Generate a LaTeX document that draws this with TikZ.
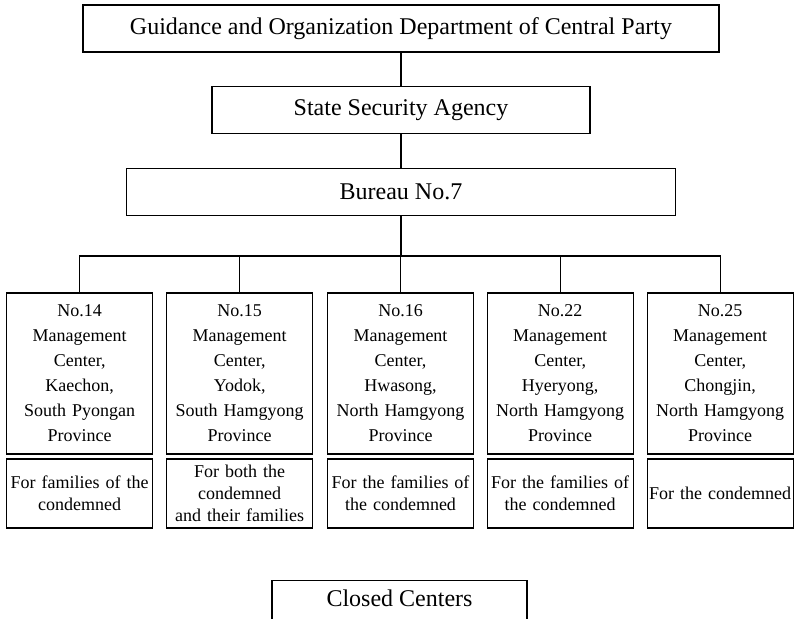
\documentclass[tikz,border=0pt]{standalone}
\usepackage{fontspec}
\setmainfont{Liberation Serif}
\begin{document}
\begin{tikzpicture}[x=1pt,y=-1pt,
  box/.style={draw, line width=1.1pt, inner sep=0pt, align=center},
  big/.style={box, font=\fontsize{24}{28}\selectfont, minimum height=47pt},
  camp/.style={box, font=\fontsize{18}{25}\selectfont, text width=144pt, minimum width=146pt, minimum height=161pt},
  note/.style={box, font=\fontsize{18}{22}\selectfont, text width=144pt, minimum width=146pt, minimum height=69pt},
  link/.style={line width=1.1pt}]
\useasboundingbox (0,0) rectangle (794,618);
\clip (0,0) rectangle (794,618);
\node[big, minimum width=636pt] (god) at (401,28.5) {Guidance and Organization Department of Central Party};
\node[big, minimum width=378pt] (ssa) at (401,110) {State Security Agency};
\node[big, minimum width=549pt] (bur) at (401,192) {Bureau No.7};
\coordinate (bus) at (401,256);

\node[camp] (c14) at (79.7,373.5) {No.14\\Management\\Center,\\Kaechon,\\South Pyongan\\Province};
\node[camp] (c15) at (239.7,373.5) {No.15\\Management\\Center,\\Yodok,\\South Hamgyong\\Province};
\node[camp] (c16) at (400.5,373.5) {No.16\\Management\\Center,\\Hwasong,\\North Hamgyong\\Province};
\node[camp] (c22) at (560.2,373.5) {No.22\\Management\\Center,\\Hyeryong,\\North Hamgyong\\Province};
\node[camp] (c25) at (720.2,373.5) {No.25\\Management\\Center,\\Chongjin,\\North Hamgyong\\Province};

\node[note] (n14) at (79.7,493.5) {For families of the\\condemned};
\node[note] (n15) at (239.7,493.5) {For both the\\condemned\\and their families};
\node[note] (n16) at (400.5,493.5) {For the families of\\the condemned};
\node[note] (n22) at (560.2,493.5) {For the families of\\the condemned};
\node[note] (n25) at (720.2,493.5) {For the condemned};

\node[box, font=\fontsize{24}{28}\selectfont, minimum width=255pt, anchor=north,
  inner ysep=9.6pt, text height=16pt, text depth=40pt] (closed) at (399.5,580) {Closed Centers};

\draw[link] (god.south) -- (ssa.north);
\draw[link] (ssa.south) -- (bur.north);
\draw[link] (bur.south) -- (bus);
\draw[link] (c14.north) -- (c14.north |- bus) -- (c25.north |- bus) -- (c25.north);
\draw[link] (c15.north) -- (c15.north |- bus);
\draw[link] (c16.north) -- (c16.north |- bus);
\draw[link] (c22.north) -- (c22.north |- bus);
\end{tikzpicture}
\end{document}
